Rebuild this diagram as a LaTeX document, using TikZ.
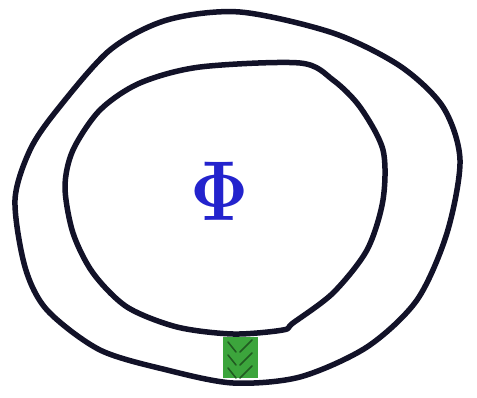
\documentclass[tikz,border=0pt]{standalone}
\definecolor{ink}{RGB}{18,18,40}
\definecolor{phiblue}{RGB}{35,35,205}
\definecolor{bridge}{RGB}{60,165,60}
\tikzset{
  loop/.style={draw=ink, line width=5.5pt, line join=round},
  hatch/.style={bridge!55!black, line width=1.5pt, line cap=round}
}
\begin{document}
\begin{tikzpicture}[x=1pt, y=-1pt]
	\useasboundingbox (0,0) rectangle (477,398);
	% green bridge between the two rings
	\fill[bridge] (223,337) rectangle (258,378);
	\foreach \s in {0,13,26}{
			\draw[hatch] (228,342+\s) -- (236,352+\s);
			\draw[hatch] (240,352+\s) -- (252,340+\s);
		}
	% outer ring
	\draw[loop] plot[smooth cycle, tension=.5] coordinates {
			(240,12) (333,33) (400,66) (443,107) (460,160)
			(447,233) (417,300) (367,347) (300,377) (233,383)
			(167,370) (100,350) (47,310) (25,267) (15,200)
			(30,150) (57,110) (110,50) (167,20)};
	% inner ring
	\draw[loop] plot[smooth cycle, tension=.5] coordinates {
			(300,63) (333,80) (360,107) (383,150) (383,200)
			(367,250) (333,293) (293,323) (283,330) (233,334)
			(177,327) (127,307) (93,273) (73,233) (65,187)
			(73,150) (100,110) (140,83) (200,67)};
	\node[text=phiblue, xscale=7, yscale=8.5] (phi) at (220,191) {$\mathbf{\Phi}$};
\end{tikzpicture}
\end{document}
